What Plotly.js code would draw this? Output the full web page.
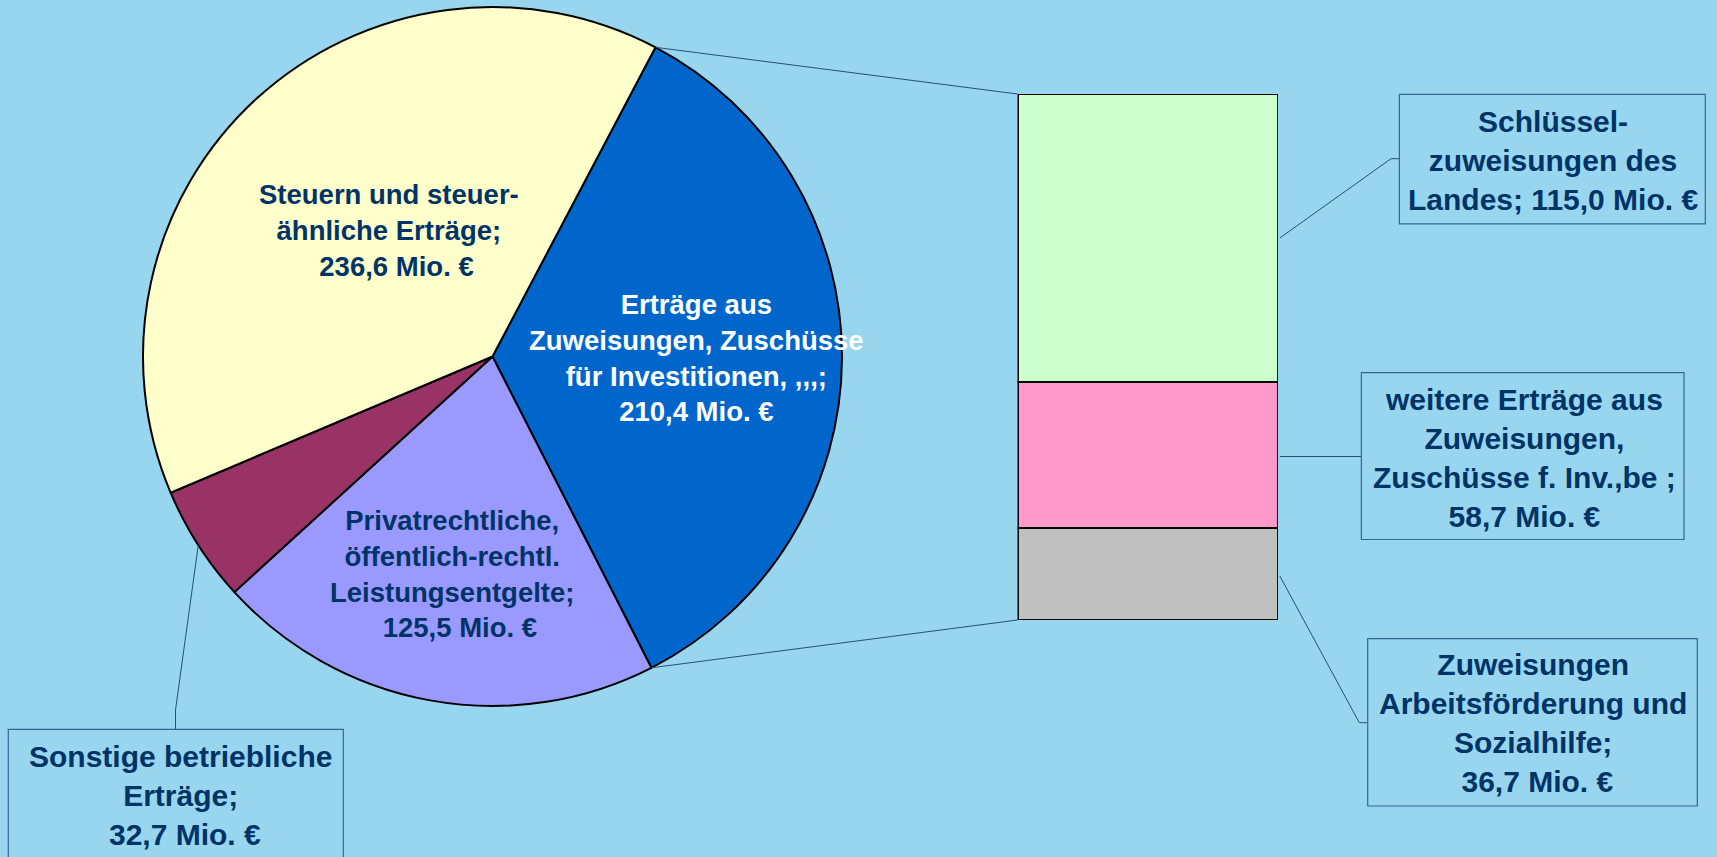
<!DOCTYPE html>
<html>
<head>
<meta charset="utf-8">
<script src="https://cdn.plot.ly/plotly-3.0.1.min.js"></script>
<style>
html,body{margin:0;padding:0;background:#98D5EF;}
#chart{width:1717px;height:857px;}
</style>
</head>
<body>
<div id="chart"></div>
<script>
// ---- data ----
const pieLabels = [
  "Erträge aus<br>Zuweisungen, Zuschüsse<br>für Investitionen, ,,,;<br>210,4 Mio. €",
  "Privatrechtliche,<br>öffentlich-rechtl.<br>Leistungsentgelte;<br>&nbsp;&nbsp;125,5 Mio. €",
  "Sonstige betriebliche<br>Erträge;<br>&nbsp;32,7 Mio. €",
  "Steuern und steuer-<br>ähnliche Erträge;<br>&nbsp;&nbsp;236,6 Mio. €"
];
const pieValues = [210.4, 125.5, 32.7, 236.6];
const pieColors = ["#0066CC", "#9999FF", "#993366", "#FFFFCC"];

const barLabels = [
  "Zuweisungen<br>Arbeitsförderung und<br>Sozialhilfe;<br>&nbsp;36,7 Mio. €",
  "weitere Erträge aus<br>Zuweisungen,<br>Zuschüsse f. Inv.,be ;<br>58,7 Mio. €",
  "Schlüssel-<br>zuweisungen des<br>Landes; 115,0 Mio. €"
];
const barValues = [36.7, 58.7, 115.0];
const barColors = ["#C0C0C0", "#FF99CC", "#CCFFCC"];
const barCategory = ["Zuweisungen"];

// ---- geometry helpers (pixels -> paper) ----
const W = 1717, H = 857;
const px = x => x / W;
const py = y => 1 - y / H;

const pieCx = 492.5, pieCy = 356.5, pieR = 349.5;
const rotation = 27.8;
const pieDomain = {x: [px(pieCx - pieR), px(pieCx + pieR)], y: [py(pieCy + pieR), py(pieCy - pieR)]};
const barX = [px(1017.5), px(1277.9)];
const barY = [py(620), py(94)];

const total = pieValues.reduce((a, b) => a + b, 0);
function pieAngle(i) { // start angle of slice i (deg, clockwise from 12 o'clock)
  let s = rotation;
  for (let k = 0; k < i; k++) s += 360 * pieValues[k] / total;
  return s;
}
function piePt(deg) {
  const a = deg * Math.PI / 180;
  return [pieCx + pieR * Math.sin(a), pieCy - pieR * Math.cos(a)];
}

const traces = [];
traces.push({
  type: 'pie',
  values: pieValues,
  labels: pieLabels,
  sort: false,
  direction: 'clockwise',
  rotation: rotation,
  textinfo: 'none',
  hoverinfo: 'none',
  marker: {colors: pieColors, line: {color: '#000000', width: 2}},
  domain: pieDomain,
  showlegend: false
});
for (let i = 0; i < barValues.length; i++) {
  traces.push({
    type: 'bar',
    x: barCategory,
    y: [barValues[i]],
    name: barLabels[i],
    marker: {color: barColors[i], line: {color: '#000000', width: 2}},
    hoverinfo: 'none',
    showlegend: false
  });
}

const barTotal = barValues.reduce((a, b) => a + b, 0);

// leader lines
const lc = '#24507C';
const blueStart = piePt(pieAngle(0));
const blueEnd = piePt(pieAngle(1));
const maroonMid = piePt((pieAngle(2) + pieAngle(3)) / 2);
function seg(x0, y0, x1, y1) {
  return {type: 'line', xref: 'paper', yref: 'paper', x0: px(x0), y0: py(y0), x1: px(x1), y1: py(y1),
          line: {color: lc, width: 1}};
}
function box(x0, y0, x1, y1) {
  return {type: 'rect', xref: 'paper', yref: 'paper', x0: px(x0), y0: py(y0), x1: px(x1), y1: py(y1),
          line: {color: '#336699', width: 1.2}, fillcolor: 'rgba(0,0,0,0)'};
}
const shapes = [
  seg(blueStart[0], blueStart[1], 1017.5, 94),
  seg(blueEnd[0], blueEnd[1], 1017.5, 620),
  seg(maroonMid[0], maroonMid[1], 175.5, 710),
  seg(175.5, 710, 175.5, 729.3),
  seg(1279.8, 238, 1391, 158.7),
  seg(1391, 158.7, 1399.4, 158.7),
  seg(1279.8, 456.5, 1361.4, 456.5),
  seg(1279.8, 575.9, 1359.3, 722.7),
  seg(1359.3, 722.7, 1367.7, 722.7),
  box(8.3, 729.3, 343.3, 900),
  box(1399.4, 94.4, 1705.3, 223.8),
  box(1361.4, 372.7, 1684, 539.5),
  box(1367.7, 638.7, 1697.3, 806)
];

const navy = '#003366';
function ann(text, x, y, size, color) {
  return {text: '<b>' + text + '</b>', xref: 'paper', yref: 'paper', x: px(x), y: py(y),
          xanchor: 'center', yanchor: 'middle', showarrow: false, align: 'center',
          font: {family: 'Liberation Sans, Arial, sans-serif', size: size, color: color}};
}
const annotations = [
  ann(pieLabels[0], 696, 358, 27.5, '#FFFFFF'),
  ann(pieLabels[1], 452, 574, 27.5, navy),
  ann(pieLabels[2], 180, 795, 30, navy),
  ann(pieLabels[3], 389, 231, 27.5, navy),
  ann(barLabels[2], 1553, 160, 30, navy),
  ann(barLabels[1], 1524, 458, 30, navy),
  ann(barLabels[0], 1533, 723, 30, navy)
];

const layout = {
  width: W, height: H,
  margin: {l: 0, r: 0, t: 0, b: 0, pad: 0},
  paper_bgcolor: '#98D5EF',
  plot_bgcolor: 'rgba(0,0,0,0)',
  barmode: 'stack',
  bargap: 0,
  showlegend: false,
  xaxis: {domain: barX, range: [-0.5, 0.5], visible: false, fixedrange: true},
  yaxis: {domain: barY, range: [0, barTotal], visible: false, fixedrange: true},
  shapes: shapes,
  annotations: annotations
};

Plotly.newPlot('chart', traces, layout, {displayModeBar: false, staticPlot: true});
</script>
</body>
</html>
